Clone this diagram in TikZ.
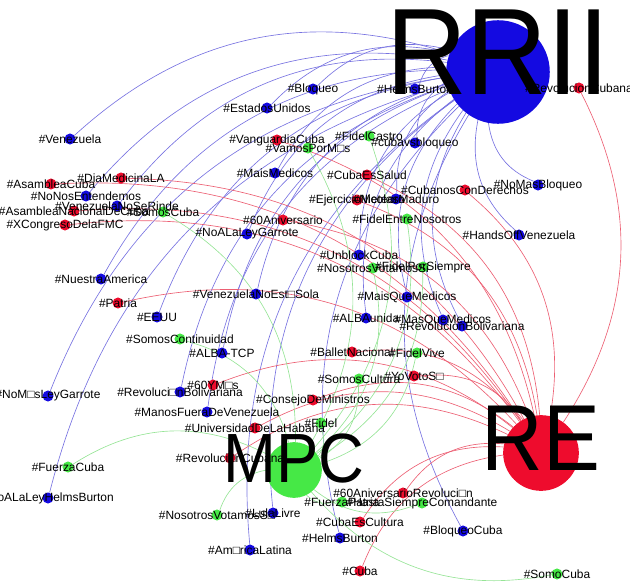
\documentclass[tikz,border=0pt]{standalone}
\usepackage{fontspec}
\setmainfont{Liberation Sans}
\usetikzlibrary{backgrounds}
\definecolor{gblue}{RGB}{20,10,225}
\definecolor{gred}{RGB}{238,12,45}
\definecolor{ggreen}{RGB}{70,232,70}
\definecolor{blueline}{RGB}{120,115,225}
\definecolor{redline}{RGB}{236,95,115}
\definecolor{greenline}{RGB}{150,228,150}

\begin{document}
\begin{tikzpicture}[
    x=0.03cm,y=-0.03cm,
    tagnode/.style={circle, inner sep=0pt, minimum size=9.4pt},
    bluetag/.style={tagnode, fill=gblue},
    redtag/.style={tagnode, fill=gred},
    greentag/.style={tagnode, fill=ggreen},
    taglabel/.style={inner sep=0pt, font=\fontsize{10.2}{12}\selectfont},
    hublabel/.style={inner sep=0pt},
    rriiedge/.style={draw=blueline, line width=0.55pt},
    reedge/.style={draw=redline, line width=0.55pt},
    mpcedge/.style={draw=greenline, line width=0.55pt}
]
\useasboundingbox (0,0) rectangle (630,583);

% hubs
\node[circle, fill=gblue, minimum size=88.4pt, inner sep=0pt] (rrii) at (498,72) {};
\node[circle, fill=gred, minimum size=64.6pt, inner sep=0pt] (re) at (541,453) {};
\node[circle, fill=ggreen, minimum size=47.6pt, inner sep=0pt] (mpc) at (294,470) {};

% blue hashtags
\node[bluetag] (bloqueo) at (313,89) {};
\node[bluetag] (estadosunidos) at (267,108) {};
\node[bluetag] (helmsburtontop) at (415,89) {};
\node[bluetag] (venezuela) at (70,139) {};
\node[bluetag] (cubavsbloqueo) at (415,143) {};
\node[bluetag] (maismedicos) at (275,173) {};
\node[bluetag] (nonosentendemos) at (86,196) {};
\node[bluetag] (venezuelanoserinde) at (117,206) {};
\node[bluetag] (nicolasmaduro) at (396,199) {};
\node[bluetag] (nomasbloqueo) at (538,185) {};
\node[bluetag] (noalaleygarrote) at (247,234) {};
\node[bluetag] (handsoff) at (519,235) {};
\node[bluetag] (unblockcuba) at (359,255) {};
\node[bluetag] (nuestraamerica) at (101,279) {};
\node[bluetag] (venezuelasola) at (256,294) {};
\node[bluetag] (maisquemedicos) at (407,297) {};
\node[bluetag] (eeuu) at (157,317) {};
\node[bluetag] (albaunida) at (366,318) {};
\node[bluetag] (masquemedicos) at (443,320) {};
\node[bluetag] (revbolivariana) at (462,326) {};
\node[bluetag] (albatcp) at (222,353) {};
\node[bluetag] (revbolivariana2) at (180,392) {};
\node[bluetag] (nomasleygarrote) at (48,396) {};
\node[bluetag] (manosfuera) at (207,412) {};
\node[bluetag] (noalaleyhelms) at (48,498) {};
\node[bluetag] (lulalivre) at (273,513) {};
\node[bluetag] (helmsburton) at (340,538) {};
\node[bluetag] (bloqueocuba) at (463,531) {};
\node[bluetag] (americalatina) at (250,550) {};

% red hashtags
\node[redtag] (revcubanatop) at (579,88) {};
\node[redtag] (vanguardia) at (277,140) {};
\node[redtag] (cubaessalud) at (367,175) {};
\node[redtag] (diamedicina) at (121,178) {};
\node[redtag] (asambleacuba) at (51,184) {};
\node[redtag] (cubanoscon) at (465,190) {};
\node[redtag] (ejercicio) at (357,200) {};
\node[redtag] (asambleanacional) at (74,211) {};
\node[redtag] (sesentaaniv) at (283,220) {};
\node[redtag] (congresofmc) at (65,225) {};
\node[redtag] (patria) at (118,303) {};
\node[redtag] (ballet) at (352,352) {};
\node[redtag] (yovoto) at (414,376) {};
\node[redtag] (sesentaymas) at (213,385) {};
\node[redtag] (consejo) at (313,400) {};
\node[redtag] (universidad) at (255,428) {};
\node[redtag] (revcubana) at (230,458) {};
\node[redtag] (aniversariorev) at (403,493) {};
\node[redtag] (cubaescultura) at (360,522) {};
\node[redtag] (cuba) at (360,571) {};

% green hashtags
\node[greentag] (fidelcastro) at (369,136) {};
\node[greentag] (vamospormas) at (308,148) {};
\node[greentag] (somoscuba) at (163,212) {};
\node[greentag] (fidelentre) at (407,219) {};
\node[greentag] (fidelporsiempre) at (423,267) {};
\node[greentag] (votamossi) at (373,268) {};
\node[greentag] (somoscontinuidad) at (180,339) {};
\node[greentag] (fidelvive) at (417,353) {};
\node[greentag] (somoscultura) at (359,379) {};
\node[greentag] (fidel) at (321,423) {};
\node[greentag] (fuerzacuba) at (68,467) {};
\node[greentag] (fuerzapatria) at (342,502) {};
\node[greentag] (hastasiempre) at (422,503) {};
\node[greentag] (votamos) at (217,515) {};
\node[greentag] (somocuba) at (557,574) {};

% edges
\begin{scope}[on background layer]
\foreach \t in {bloqueo,estadosunidos,helmsburtontop,venezuela,cubavsbloqueo,
    maismedicos,nonosentendemos,venezuelanoserinde,nicolasmaduro,nomasbloqueo,
    noalaleygarrote,handsoff,unblockcuba,nuestraamerica,venezuelasola,
    maisquemedicos,eeuu,albaunida,masquemedicos,revbolivariana,albatcp,
    revbolivariana2,nomasleygarrote,manosfuera,noalaleyhelms,lulalivre,
    helmsburton,bloqueocuba,americalatina}
  \draw[rriiedge] (rrii) to[bend right=30] (\t);
\foreach \t in {revcubanatop,vanguardia,cubaessalud,diamedicina,asambleacuba,
    cubanoscon,ejercicio,asambleanacional,sesentaaniv,congresofmc,patria,
    ballet,yovoto,sesentaymas,consejo,universidad,revcubana,aniversariorev,
    cubaescultura,cuba}
  \draw[reedge] (re) to[bend right=30] (\t);
\foreach \t in {fidelcastro,vamospormas,somoscuba,fidelentre,fidelporsiempre,
    votamossi,somoscontinuidad,fidelvive,somoscultura,fidel,fuerzacuba,
    fuerzapatria,hastasiempre,votamos,somocuba}
  \draw[mpcedge] (mpc) to[bend right=30] (\t);
\end{scope}

% labels
\node[taglabel] at (bloqueo) {\#Bloqueo};
\node[taglabel] at (estadosunidos) {\#EstadosUnidos};
\node[taglabel] at (helmsburtontop) {\#HelmsBurton};
\node[taglabel] at (venezuela) {\#Venezuela};
\node[taglabel] at (cubavsbloqueo) {\#cubavsbloqueo};
\node[taglabel] at (maismedicos) {\#MaisMedicos};
\node[taglabel] at (nonosentendemos) {\#NoNosEntendemos};
\node[taglabel] at (venezuelanoserinde) {\#VenezuelaNoSeRinde};
\node[taglabel] at (nicolasmaduro) {\#NicolasMaduro};
\node[taglabel] at (nomasbloqueo) {\#NoMasBloqueo};
\node[taglabel] at (noalaleygarrote) {\#NoALaLeyGarrote};
\node[taglabel] at (handsoff) {\#HandsOffVenezuela};
\node[taglabel] at (unblockcuba) {\#UnblockCuba};
\node[taglabel] at (nuestraamerica) {\#NuestraAmerica};
\node[taglabel] at (venezuelasola) {\#VenezuelaNoEst□Sola};
\node[taglabel] at (maisquemedicos) {\#MaisQueMedicos};
\node[taglabel] at (eeuu) {\#EEUU};
\node[taglabel] at (albaunida) {\#ALBAunida};
\node[taglabel] at (masquemedicos) {\#MasQueMedicos};
\node[taglabel] at (revbolivariana) {\#RevolucionBolivariana};
\node[taglabel] at (albatcp) {\#ALBA-TCP};
\node[taglabel] at (revbolivariana2) {\#Revoluci□nBolivariana};
\node[taglabel] at (nomasleygarrote) {\#NoM□sLeyGarrote};
\node[taglabel] at (manosfuera) {\#ManosFueraDeVenezuela};
\node[taglabel] at (noalaleyhelms) {\#NoALaLeyHelmsBurton};
\node[taglabel] at (lulalivre) {\#LulaLivre};
\node[taglabel] at (helmsburton) {\#HelmsBurton};
\node[taglabel] at (bloqueocuba) {\#BloqueoCuba};
\node[taglabel] at (americalatina) {\#Am□ricaLatina};
\node[taglabel] at (revcubanatop) {\#RevolucionCubana};
\node[taglabel] at (vanguardia) {\#VanguardiaCuba};
\node[taglabel] at (cubaessalud) {\#CubaEsSalud};
\node[taglabel] at (diamedicina) {\#DiaMedicinaLA};
\node[taglabel] at (asambleacuba) {\#AsambleaCuba};
\node[taglabel] at (cubanoscon) {\#CubanosConDerechos};
\node[taglabel] at (ejercicio) {\#EjercicioMeteoro};
\node[taglabel] at (asambleanacional) {\#AsambleaNacionalDeCuba};
\node[taglabel] at (sesentaaniv) {\#60Aniversario};
\node[taglabel] at (congresofmc) {\#XCongresoDelaFMC};
\node[taglabel] at (patria) {\#Patria};
\node[taglabel] at (ballet) {\#BalletNacional};
\node[taglabel] at (yovoto) {\#YoVotoS□};
\node[taglabel] at (sesentaymas) {\#60YM□s};
\node[taglabel] at (consejo) {\#ConsejoDeMinistros};
\node[taglabel] at (universidad) {\#UniversidadDeLaHabana};
\node[taglabel] at (revcubana) {\#Revoluci□nCubana};
\node[taglabel] at (aniversariorev) {\#60AniversarioRevoluci□n};
\node[taglabel] at (cubaescultura) {\#CubaEsCultura};
\node[taglabel] at (cuba) {\#Cuba};
\node[taglabel] at (fidelcastro) {\#FidelCastro};
\node[taglabel] at (vamospormas) {\#VamosPorM□s};
\node[taglabel] at (somoscuba) {\#SomosCuba};
\node[taglabel] at (fidelentre) {\#FidelEntreNosotros};
\node[taglabel] at (fidelporsiempre) {\#FidelPorSiempre};
\node[taglabel] at (votamossi) {\#NosotrosVotamosSi};
\node[taglabel] at (somoscontinuidad) {\#SomosContinuidad};
\node[taglabel] at (fidelvive) {\#FidelVive};
\node[taglabel] at (somoscultura) {\#SomosCultura};
\node[taglabel] at (fidel) {\#Fidel};
\node[taglabel] at (fuerzacuba) {\#FuerzaCuba};
\node[taglabel] at (fuerzapatria) {\#FuerzaPatria};
\node[taglabel] at (hastasiempre) {\#HastaSiempreComandante};
\node[taglabel] at (votamos) {\#NosotrosVotamosS□};
\node[taglabel] at (somocuba) {\#SomoCuba};

% hub labels
\node[hublabel, font=\fontsize{105}{110}\selectfont] (rriitext) at (498,52) {\scalebox{0.91}[1]{RRII}};
\node[hublabel, font=\fontsize{80}{84}\selectfont] (retext) at (541,438) {\scalebox{0.91}[1]{RE}};
\node[hublabel, font=\fontsize{59.5}{62}\selectfont] (mpctext) at (294,458) {\scalebox{0.91}[1]{MPC}};

\end{tikzpicture}
\end{document}
